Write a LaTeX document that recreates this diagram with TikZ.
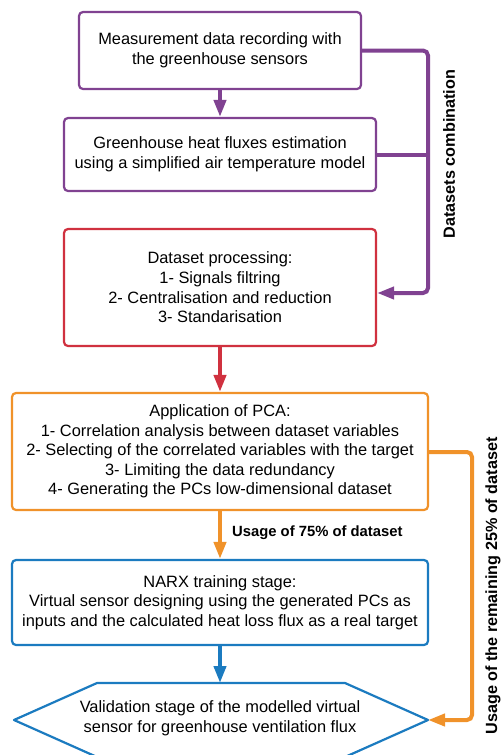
\documentclass[tikz,border=0pt]{standalone}
\usepackage{fontspec}
\setmainfont{Liberation Sans}
\usetikzlibrary{arrows.meta}
\definecolor{cpurple}{RGB}{128,66,145}
\definecolor{cred}{RGB}{208,49,63}
\definecolor{corange}{RGB}{240,146,42}
\definecolor{cblue}{RGB}{27,123,192}
\begin{document}
\begin{tikzpicture}[x=1pt,y=-1pt,
  stage/.style={line width=2.2pt,rounded corners=4pt,fill=white,
    align=center,inner sep=0pt,font=\fontsize{16.4}{19.6}\selectfont,text=black},
  link/.style={line width=4pt,rounded corners=5pt,
    -{Triangle[width=12pt,length=17pt]}},
  tag/.style={font=\bfseries\fontsize{14.8}{17}\selectfont,text=black,inner sep=0pt},
  sidetag/.style={tag,font=\bfseries\fontsize{16.2}{18}\selectfont,rotate=90}]
\useasboundingbox (0,0) rectangle (501,755);
\fill[white] (0,0) rectangle (501,755);

% process stages
\node[stage,draw=cpurple,minimum width=282pt,minimum height=77pt] (rec) at (220,50.5)
  {Measurement data recording with\\the greenhouse sensors};
\node[stage,draw=cpurple,minimum width=312pt,minimum height=73pt] (est) at (220,154.5)
  {Greenhouse heat fluxes estimation\\using a simplified air temperature model};
\node[stage,draw=cred,minimum width=312pt,minimum height=117pt] (proc) at (220,287.5)
  {Dataset processing:\\1- Signals filtring\\2- Centralisation and reduction\\3- Standarisation};
\node[stage,draw=corange,minimum width=416pt,minimum height=117pt] (pca) at (220,451.5)
  {Application of PCA:\\1- Correlation analysis between dataset variables\\2- Selecting of the correlated variables with the target\\3- Limiting the data redundancy\\4- Generating the PCs low-dimensional dataset};
\node[stage,draw=cblue,minimum width=416pt,minimum height=85pt] (narx) at (220,602.5)
  {NARX training stage:\\Virtual sensor designing using the generated PCs as\\inputs and the calculated heat loss flux as a real target};

% validation hexagon
\coordinate (hexT) at (220,683);
\coordinate (hexR) at (428,720);
\draw[cblue,line width=2.2pt,fill=white,line join=round]
  (14,720) -- (97,683) -- (345,683) -- (hexR) -- (345,757) -- (97,757) -- cycle;
\node[align=center,inner sep=0pt,font=\fontsize{16.4}{19.6}\selectfont] (valid) at (220,718.5)
  {Validation stage of the modelled virtual\\sensor for greenhouse ventilation flux};

% vertical flow
\draw[link,cpurple] (rec.south) -- (est.north);
\draw[link,cred] (proc.south) -- (pca.north);
\draw[link,corange] (pca.south) -- (narx.north);
\draw[link,cblue] (narx.south) -- (hexT);

% side connectors
\coordinate (pj) at (428,154.5);
\draw[link,cpurple] (rec.east) -- (428,50.5) -- (428,293) -- (proc.east |- 0,293);
\draw[cpurple,line width=4pt] (est.east) -- (pj);
\draw[link,corange] (pca.east |- 0,452) -- (472,452) -- (472,720) -- (hexR);

% labels
\node[tag,anchor=west] (l75) at (232,533) {Usage of 75\% of dataset};
\node[sidetag] (lcomb) at (449,154) {Datasets combination};
\node[sidetag] (l25) at (493,586) {Usage of the remaining 25\% of dataset};
\end{tikzpicture}
\end{document}
